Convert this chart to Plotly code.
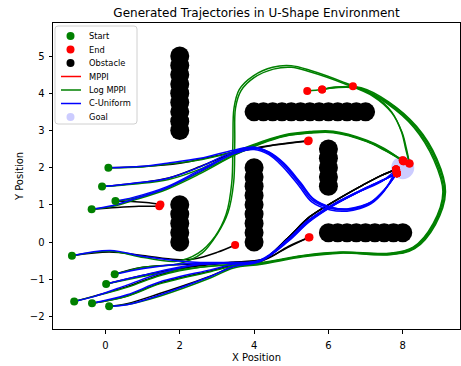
import plotly.graph_objects as go

# ---------------- data ----------------
start_x = [0.08, -0.09, 0.27, -0.37, -0.90, 0.25, 0.02, -0.84, -0.36, 0.10]
start_y = [2.00, 1.49, 1.10, 0.88, -0.37, -0.87, -1.13, -1.60, -1.65, -1.73]

goal_x = [8.0]
goal_y = [2.0]

obstacle_x = [2, 2, 2, 2, 2, 2, 2, 2, 2,
              2, 2, 2, 2, 2,
              4, 4, 4, 4, 4, 4, 4, 4, 4,
              4, 4.25, 4.5, 4.75, 5, 5.25, 5.5, 5.75, 6, 6.25, 6.5, 6.75, 7,
              6, 6, 6, 6, 6,
              6, 6.25, 6.5, 6.75, 7, 7.25, 7.5, 7.75, 8]
obstacle_y = [3, 3.25, 3.5, 3.75, 4, 4.25, 4.5, 4.75, 5,
              0, 0.25, 0.5, 0.75, 1,
              0, 0.25, 0.5, 0.75, 1, 1.25, 1.5, 1.75, 2,
              3.5, 3.5, 3.5, 3.5, 3.5, 3.5, 3.5, 3.5, 3.5, 3.5, 3.5, 3.5, 3.5,
              1.5, 1.75, 2, 2.25, 2.5,
              0.25, 0.25, 0.25, 0.25, 0.25, 0.25, 0.25, 0.25, 0.25]

# waypoints after each start
mppi_paths = [
    [(1.0, 2.03), (2.0, 2.12), (2.9, 2.3), (3.7, 2.47), (4.6, 2.62), (5.47, 2.73)],
    [(0.8, 1.58), (1.7, 1.72), (2.6, 2.05), (3.5, 2.4), (4.5, 2.6), (5.45, 2.71)],
    [(0.7, 1.09), (1.1, 1.06), (1.48, 1.01)],
    [(0.3, 0.93), (0.9, 0.96), (1.45, 0.96)],
    [(0.1, -0.27), (1.0, -0.36), (1.9, -0.47), (2.37, -0.46), (3.0, -0.28), (3.49, -0.08)],
    [(1.0, -0.68), (2.2, -0.6), (3.3, -0.55), (4.3, -0.45), (4.9, -0.15), (5.49, 0.13)],
    [(1.0, -0.9), (2.2, -0.68), (3.3, -0.56), (4.3, -0.47), (4.92, -0.12), (5.47, 0.12)],
    [(0.58, -1.2), (1.48, -0.88), (2.55, -0.62), (3.5, -0.55), (4.2, -0.5), (4.9, 0.1),
     (5.5, 0.68), (6.2, 1.12), (6.85, 1.49), (7.4, 1.78), (7.82, 1.95)],
    [(0.58, -1.45), (1.48, -1.1), (2.82, -0.78), (3.5, -0.6), (4.2, -0.5), (4.9, 0.1),
     (5.5, 0.68), (6.2, 1.12), (6.85, 1.49), (7.4, 1.78), (7.82, 1.95)],
    [(0.58, -1.66), (1.48, -1.38), (2.82, -0.92), (3.45, -0.66), (4.2, -0.52), (4.9, 0.1),
     (5.5, 0.68), (6.2, 1.12), (6.85, 1.49), (7.4, 1.78), (7.82, 1.95)],
]

log_mppi_paths = [
    [(1.0, 2.02), (1.7, 2.1), (2.6, 2.22), (3.5, 2.44), (4.2, 2.7), (4.8, 2.88), (5.5, 2.97),
     (6.13, 2.98), (7.03, 2.74), (7.5, 2.52), (8.02, 2.17)],
    [(0.8, 1.56), (1.7, 1.68), (2.6, 1.98), (3.5, 2.4), (4.2, 2.68), (4.8, 2.86), (5.5, 2.95),
     (6.13, 2.96), (7.03, 2.72), (7.5, 2.5), (8.0, 2.2)],
    [(0.75, 1.17), (1.66, 1.45), (2.55, 1.88), (3.5, 2.36), (4.2, 2.66), (4.8, 2.85), (5.5, 2.94),
     (6.13, 2.95), (7.03, 2.71), (7.5, 2.48), (8.02, 2.17)],
    [(0.2, 0.96), (0.75, 1.12), (1.66, 1.42), (2.55, 1.84), (3.5, 2.35), (4.2, 2.65), (4.8, 2.84),
     (5.5, 2.93), (6.13, 2.94), (7.03, 2.7), (7.5, 2.47), (8.0, 2.19)],
    [(0.13, -0.25), (1.03, -0.42), (1.9, -0.52), (2.5, -0.3), (2.95, 0.15), (3.25, 0.75),
     (3.4, 1.6), (3.43, 2.7), (3.46, 3.6), (3.6, 4.1), (3.98, 4.47), (4.5, 4.7), (5.0, 4.74),
     (5.5, 4.62), (6.4, 4.3), (7.2, 3.95), (7.7, 3.5), (7.97, 2.95), (8.08, 2.5), (8.18, 2.11)],
    [(1.03, -0.68), (2.0, -0.58), (2.6, -0.3), (3.0, 0.2), (3.3, 0.8), (3.45, 1.6), (3.48, 2.7),
     (3.5, 3.6), (3.65, 4.07), (4.0, 4.42), (4.52, 4.65), (5.0, 4.7), (5.5, 4.58), (6.4, 4.27),
     (7.2, 3.92), (7.7, 3.48), (7.98, 2.95), (8.1, 2.5), (8.18, 2.11)],
    [(1.03, -0.92), (2.2, -0.72), (3.3, -0.62), (4.2, -0.55), (5.32, -0.36), (6.32, -0.27),
     (7.66, -0.3), (8.28, -0.14), (8.82, 0.5), (9.08, 1.35), (8.84, 2.2), (8.3, 3.08),
     (7.58, 3.72), (6.85, 4.12), (6.2, 4.15), (5.83, 4.1)],
    [(0.58, -1.22), (1.48, -0.9), (2.55, -0.68), (3.5, -0.6), (4.2, -0.57), (5.32, -0.38),
     (6.32, -0.29), (7.66, -0.33), (8.3, -0.17), (8.86, 0.48), (9.13, 1.35), (8.9, 2.22),
     (8.35, 3.1), (7.6, 3.76), (6.66, 4.19)],
    [(0.58, -1.46), (1.48, -1.12), (2.82, -0.8), (3.5, -0.64), (4.2, -0.58), (5.32, -0.37),
     (6.32, -0.28), (7.66, -0.31), (8.29, -0.15), (8.84, 0.49), (9.1, 1.35), (8.87, 2.21),
     (8.32, 3.09), (7.59, 3.74), (6.86, 4.13), (6.2, 4.16), (5.83, 4.1), (5.43, 4.06)],
    [(0.58, -1.68), (1.48, -1.45), (2.82, -0.97), (3.45, -0.7), (4.2, -0.6), (5.32, -0.4),
     (6.32, -0.3), (7.66, -0.34), (8.32, -0.18), (8.88, 0.47), (9.15, 1.35), (8.92, 2.23),
     (8.37, 3.11), (7.62, 3.77), (6.88, 4.15), (6.2, 4.17), (5.83, 4.1)],
]

c_uniform_paths = [
    [(1.0, 2.04), (1.66, 2.12), (2.55, 2.25), (3.45, 2.47), (4.0, 2.55), (4.4, 2.42), (4.8, 2.12),
     (5.25, 1.6), (5.6, 1.16), (6.1, 0.93), (6.5, 0.89), (6.85, 0.96), (7.15, 1.08), (7.5, 1.4),
     (7.84, 1.85)],
    [(0.76, 1.58), (1.66, 1.71), (2.55, 2.02), (3.45, 2.43), (4.0, 2.52), (4.4, 2.38), (4.78, 2.08),
     (5.22, 1.56), (5.57, 1.12), (6.08, 0.9), (6.5, 0.86), (6.85, 0.93), (7.15, 1.05), (7.5, 1.38),
     (7.84, 1.85)],
    [(0.75, 1.2), (1.66, 1.49), (2.55, 1.94), (3.45, 2.39), (4.0, 2.54), (4.4, 2.41), (4.8, 2.1),
     (5.24, 1.58), (5.6, 1.14), (6.1, 0.92), (6.5, 0.88), (6.85, 0.95), (7.15, 1.07), (7.5, 1.4),
     (7.84, 1.85)],
    [(0.2, 0.98), (0.75, 1.15), (1.66, 1.46), (2.55, 1.9), (3.45, 2.37), (4.0, 2.49), (4.4, 2.35),
     (4.76, 2.04), (5.2, 1.52), (5.55, 1.08), (6.06, 0.86), (6.5, 0.83), (6.85, 0.9), (7.15, 1.03),
     (7.5, 1.37), (7.82, 1.95)],
    [(0.13, -0.23), (1.03, -0.39), (2.2, -0.53), (3.2, -0.55), (4.17, -0.48), (4.88, 0.05),
     (5.45, 0.58), (6.1, 1.0), (6.85, 1.38), (7.45, 1.66), (7.84, 1.85)],
    [(1.03, -0.71), (2.2, -0.58), (3.2, -0.56), (4.17, -0.5), (4.9, 0.04), (5.46, 0.56),
     (6.1, 0.98), (6.85, 1.37), (7.45, 1.65), (7.84, 1.85)],
    [(1.03, -0.89), (2.2, -0.64), (3.2, -0.57), (4.17, -0.5), (4.9, 0.03), (5.47, 0.55),
     (6.1, 0.97), (6.85, 1.36), (7.45, 1.65), (7.84, 1.85)],
    [(-0.31, -1.47), (0.58, -1.16), (1.48, -0.84), (2.55, -0.6), (3.4, -0.56), (4.17, -0.5),
     (4.9, 0.05), (5.46, 0.57), (6.1, 0.99), (6.85, 1.38), (7.45, 1.66), (7.84, 1.85)],
    [(0.58, -1.42), (1.48, -1.07), (2.82, -0.75), (3.45, -0.6), (4.17, -0.51), (4.91, 0.03),
     (5.47, 0.55), (6.1, 0.97), (6.85, 1.37), (7.45, 1.65), (7.84, 1.85)],
    [(0.58, -1.69), (1.48, -1.42), (2.82, -0.93), (3.45, -0.66), (4.17, -0.52), (4.92, 0.02),
     (5.48, 0.54), (6.1, 0.96), (6.85, 1.36), (7.45, 1.64), (7.82, 1.95)],
]

x_ticks = [0, 2, 4, 6, 8]
y_ticks = [-2, -1, 0, 1, 2, 3, 4, 5]
legend_labels = ["Start", "End", "Obstacle", "MPPI", "Log MPPI", "C-Uniform", "Goal"]

# ---------------- figure ----------------
W, H = 461, 366
L, R, T, B = 53, 1, 23, 37
PW, PH = W - L - R, H - T - B
FONT = "DejaVu Sans, Liberation Sans, sans-serif"

fig = go.Figure()

fig.add_trace(go.Scatter(x=obstacle_x, y=obstacle_y, mode="markers",
                         marker=dict(size=19, color="black", line=dict(width=0)),
                         showlegend=False, hoverinfo="skip"))
fig.add_trace(go.Scatter(x=goal_x, y=goal_y, mode="markers",
                         marker=dict(size=23, color="rgba(0,0,255,0.2)", line=dict(width=0)),
                         showlegend=False))

def add_paths(paths, color):
    for i, path in enumerate(paths):
        xs = [start_x[i]] + [p[0] for p in path]
        ys = [start_y[i]] + [p[1] for p in path]
        fig.add_trace(go.Scatter(x=xs, y=ys, mode="lines",
                                 line=dict(color=color, width=1.5, shape="spline", smoothing=1.0),
                                 showlegend=False, hoverinfo="skip"))

add_paths(mppi_paths, "black")
add_paths(log_mppi_paths, "green")
add_paths(c_uniform_paths, "blue")

fig.add_trace(go.Scatter(x=start_x, y=start_y, mode="markers",
                         marker=dict(size=8, color="green", line=dict(width=0)),
                         showlegend=False))

end_x, end_y = [], []
for paths in (mppi_paths, log_mppi_paths, c_uniform_paths):
    for path in paths:
        end_x.append(path[-1][0])
        end_y.append(path[-1][1])
fig.add_trace(go.Scatter(x=end_x, y=end_y, mode="markers",
                         marker=dict(size=8, color="red", line=dict(width=0)),
                         showlegend=False))

# ---------------- custom compact legend (matplotlib style) ----------------
def px_x(p):
    return (p - L) / PW

def px_y(p):
    return (H - B - p) / PH

shapes = []
annotations = []
bx0, bx1, by0, by1 = 55, 137, 26, 124
r = 3
path = (f"M {px_x(bx0 + r)},{px_y(by0)} L {px_x(bx1 - r)},{px_y(by0)} "
        f"Q {px_x(bx1)},{px_y(by0)} {px_x(bx1)},{px_y(by0 + r)} "
        f"L {px_x(bx1)},{px_y(by1 - r)} Q {px_x(bx1)},{px_y(by1)} {px_x(bx1 - r)},{px_y(by1)} "
        f"L {px_x(bx0 + r)},{px_y(by1)} Q {px_x(bx0)},{px_y(by1)} {px_x(bx0)},{px_y(by1 - r)} "
        f"L {px_x(bx0)},{px_y(by0 + r)} Q {px_x(bx0)},{px_y(by0)} {px_x(bx0 + r)},{px_y(by0)} Z")
shapes.append(dict(type="path", xref="paper", yref="paper", path=path,
                   fillcolor="rgba(255,255,255,0.8)", line=dict(color="#d0d0d0", width=1),
                   layer="above"))

row_y = [36, 49.5, 63, 76.5, 90, 103.5, 117]
kinds = [("dot", "green"), ("dot", "red"), ("dot", "black"), ("line", "red"),
         ("line", "green"), ("line", "blue"), ("dot", "rgba(0,0,255,0.2)")]
for label, ry, (kind, col) in zip(legend_labels, row_y, kinds):
    if kind == "dot":
        shapes.append(dict(type="circle", xref="paper", yref="paper",
                           xsizemode="pixel", ysizemode="pixel",
                           xanchor=px_x(70.5), yanchor=px_y(ry),
                           x0=-4, x1=4, y0=-4, y1=4,
                           fillcolor=col, line=dict(width=0), layer="above"))
    else:
        shapes.append(dict(type="line", xref="paper", yref="paper",
                           x0=px_x(61), x1=px_x(81), y0=px_y(ry), y1=px_y(ry),
                           line=dict(color=col, width=1.5), layer="above"))
    annotations.append(dict(text=label, xref="paper", yref="paper",
                            x=px_x(86.5), y=px_y(ry), xanchor="left", yanchor="middle",
                            showarrow=False, font=dict(family=FONT, size=8.3, color="black")))

fig.update_layout(
    width=W, height=H,
    margin=dict(l=L, r=R, t=T, b=B, pad=0),
    paper_bgcolor="white", plot_bgcolor="white",
    showlegend=False,
    font=dict(family=FONT, size=10, color="black"),
    title=dict(text="Generated Trajectories in U-Shape Environment",
               x=(L + PW / 2) / W, xanchor="center", xref="container",
               y=1 - 12.5 / H, yanchor="middle", yref="container",
               font=dict(family=FONT, size=12, color="black")),
    shapes=shapes,
    annotations=annotations,
)

fig.update_xaxes(range=[-1.41, 9.54], tickvals=x_ticks,
                 ticktext=[str(v).replace("-", "\u2212") for v in x_ticks],
                 showline=True, linecolor="black", linewidth=1, mirror=True,
                 ticks="outside", ticklen=3.5, tickwidth=1, tickcolor="black",
                 ticklabelstandoff=3,
                 showgrid=False, zeroline=False, automargin=False,
                 tickfont=dict(family=FONT, size=10, color="black"),
                 title=dict(text="X Position", standoff=4,
                            font=dict(family=FONT, size=10, color="black")))
fig.update_yaxes(range=[-2.34, 5.89], tickvals=y_ticks,
                 ticktext=[str(v).replace("-", "\u2212") for v in y_ticks],
                 showline=True, linecolor="black", linewidth=1, mirror=True,
                 ticks="outside", ticklen=3.5, tickwidth=1, tickcolor="black",
                 ticklabelstandoff=2,
                 showgrid=False, zeroline=False, automargin=False,
                 tickfont=dict(family=FONT, size=10, color="black"),
                 title=dict(text="Y Position", standoff=4,
                            font=dict(family=FONT, size=10, color="black")))

fig.write_html("out.html", config={"displayModeBar": False},
               post_script="document.body.style.margin='0px';document.body.style.padding='0px';")
